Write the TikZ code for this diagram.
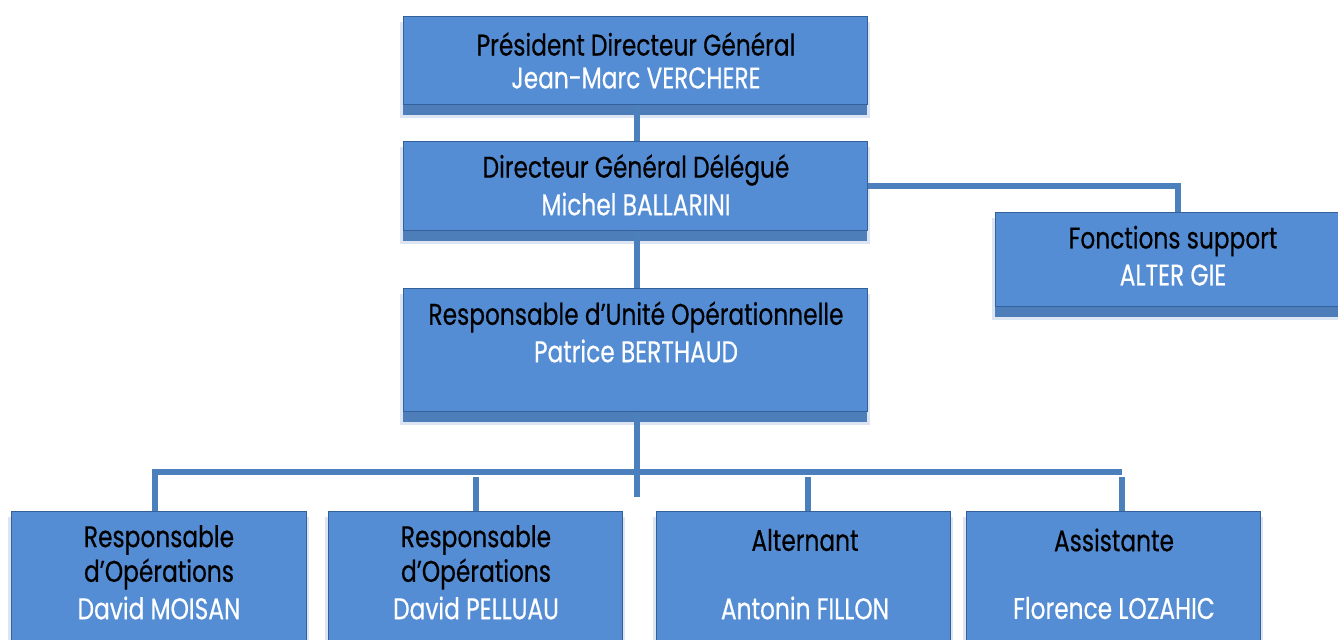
\documentclass[tikz,border=0pt]{standalone}
\usepackage{fontspec}
\setmainfont{Poppins}[FakeStretch=0.78, FakeBold=0.4]
\definecolor{boxfill}{RGB}{85,141,213}
\definecolor{boxdraw}{RGB}{52,96,156}
\definecolor{shadowc}{RGB}{78,126,186}
\definecolor{linec}{RGB}{76,128,189}
\tikzset{
  orgbox/.style={draw=boxdraw, line width=0.6pt, fill=boxfill, inner sep=0pt},
  ttl/.style={text=black, font=\fontsize{17}{20}\selectfont, inner sep=0pt, anchor=center},
  nme/.style={text=white, font=\fontsize{17}{20}\selectfont, inner sep=0pt, anchor=center},
  conn/.style={draw=linec, line width=3.3pt},
}
\newcommand{\orgrect}[5]{%
  \fill[shadowc, opacity=0.2] (#2-3,#3+6) rectangle (#4+3,#5+14);
  \fill[shadowc] (#2,#3+4) rectangle (#4,#5+11);
  \node[orgbox, minimum width={(#4-#2)*0.02cm}, minimum height={(#5-#3)*0.02cm}, anchor=north west] (#1) at (#2,#3) {};
}
\begin{document}
\begin{tikzpicture}[x=0.02cm,y=-0.02cm]
\useasboundingbox (0,0) rectangle (1338,639);
\clip (0,0) rectangle (1338,639);
\coordinate (busL) at (155,472);
\coordinate (busR) at (1122,472);
\coordinate (busEnd) at (637,497);
\coordinate (fsK) at (1178,186);
\coordinate (dB) at (476,477);
\coordinate (dC) at (808,477);
\coordinate (dD) at (1122,477);
\coordinate (v1) at (637,0);
\orgrect{pdg}{403}{16}{867}{104}
\orgrect{dgd}{403}{141}{867}{230}
\orgrect{ruo}{403}{288}{867}{411}
\orgrect{fs}{995}{212}{1351}{306}
\orgrect{ra}{11}{511}{306}{640}
\orgrect{rb}{328}{511}{622}{640}
\orgrect{rc}{656}{511}{950}{640}
\orgrect{rd}{966}{511}{1260}{640}
% connectors
\draw[conn] (v1 |- pdg.south) -- (v1 |- dgd.north);
\draw[conn] (v1 |- dgd.south) -- (v1 |- ruo.north);
\draw[conn] (dgd.east |- fsK) -- (fsK) -- (fsK |- fs.north);
\draw[conn] (v1 |- ruo.south) -- (busEnd);
\draw[conn] (busL |- ra.north) -- (busL) -- (busR);
\draw[conn] (dB) -- (dB |- rb.north);
\draw[conn] (dC) -- (dC |- rc.north);
\draw[conn] (dD) -- (dD |- rd.north);
% texts
\node[ttl] (t1) at (636,44) {Président Directeur Général};
\node[nme] (n1) at (636,78) {Jean-Marc VERCHERE};
\node[ttl] (t2) at (636,170) {Directeur Général Délégué};
\node[nme] (n2) at (636,204) {Michel BALLARINI};
\node[ttl] (t3) at (636,317) {Responsable d’Unité Opérationnelle};
\node[nme] (n3) at (636,351) {Patrice BERTHAUD};
\node[ttl] (t4) at (1173,241) {Fonctions support};
\node[nme] (n4) at (1173,275) {ALTER GIE};
\node[ttl] (ta1) at (159,540) {Responsable};
\node[ttl] (ta2) at (159,574) {d’Opérations};
\node[nme] (na) at (159,608) {David MOISAN};
\node[ttl] (tb1) at (476,540) {Responsable};
\node[ttl] (tb2) at (476,574) {d’Opérations};
\node[nme] (nb) at (476,608) {David PELLUAU};
\node[ttl] (tc) at (805,540) {Alternant};
\node[nme] (nc) at (805,608) {Antonin FILLON};
\node[ttl] (td) at (1114,540) {Assistante};
\node[nme] (nd) at (1114,608) {Florence LOZAHIC};
\end{tikzpicture}
\end{document}
